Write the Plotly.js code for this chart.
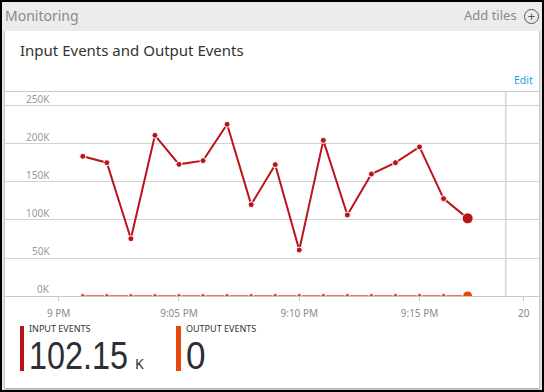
<!DOCTYPE html>
<html>
<head>
<meta charset="utf-8">
<script src="https://cdn.plot.ly/plotly-3.0.1.min.js"></script>
<style>
  html, body { margin:0; padding:0; width:544px; height:392px; overflow:hidden; background:#ececec; font-family:"Noto Sans", "Open Sans", sans-serif; }
  .abs { position:absolute; }
  #frame { left:0; top:0; width:544px; height:392px; box-sizing:border-box; border:2px solid #000; pointer-events:none; z-index:10; }
  #card { left:4px; top:31px; width:536px; height:357px; background:#fff; border-left:1px solid #d0d0d0; border-right:1px solid #d0d0d0; box-sizing:border-box; box-shadow:0 2px 2px rgba(0,0,0,0.25); }
  #chart { left:0; top:0; width:544px; height:392px; z-index:2; }
  .txt { z-index:5; white-space:nowrap; }
  .big { font-family:"Liberation Sans", Arial, sans-serif; font-size:39px; line-height:36px; color:#2b2e36; transform-origin:0 0; }
</style>
</head>
<body>
<div id="card" class="abs"></div>
<div id="chart" class="abs"></div>

<div class="abs txt" style="left:5px; top:6px; font-size:14px; color:#8a8a8a;">Monitoring</div>
<div class="abs txt" style="left:464px; top:6px; font-size:13px; color:#8a8a8a;">Add tiles</div>
<div class="abs txt" style="left:524px; top:9px; width:13px; height:13px; border:1px solid #555; border-radius:50%; text-align:center; line-height:13px; font-size:13px; color:#555;">+</div>

<div class="abs txt" style="left:20px; top:40px; font-size:15px; color:#333;">Input Events and Output Events</div>
<div class="abs txt" style="left:514px; top:73px; font-size:10.5px; color:#1ba1e2;">Edit</div>

<div class="abs txt" style="left:20px; top:326px; width:4px; height:45px; background:#BA141A;"></div>
<div class="abs txt" id="inLabel" style="left:29px; top:323px; font-size:9px; line-height:11px; color:#333;"></div>
<div class="abs txt big" id="inValue" style="left:29px; top:338px; transform:scaleX(0.83);"></div>
<div class="abs txt" id="inUnit" style="left:135px; top:355px; font-size:14px; line-height:17px; color:#2b2e36;"></div>

<div class="abs txt" style="left:176px; top:326px; width:5px; height:45px; background:#E8470C;"></div>
<div class="abs txt" id="outLabel" style="left:186px; top:323px; font-size:9px; line-height:11px; color:#333;"></div>
<div class="abs txt big" id="outValue" style="left:186px; top:338px; transform:scaleX(0.9);"></div>

<div id="frame" class="abs"></div>

<script>
// ---- data ----
const times = [
  "2017-01-01 21:01:00","2017-01-01 21:02:00","2017-01-01 21:03:00","2017-01-01 21:04:00",
  "2017-01-01 21:05:00","2017-01-01 21:06:00","2017-01-01 21:07:00","2017-01-01 21:08:00",
  "2017-01-01 21:09:00","2017-01-01 21:10:00","2017-01-01 21:11:00","2017-01-01 21:12:00",
  "2017-01-01 21:13:00","2017-01-01 21:14:00","2017-01-01 21:15:00","2017-01-01 21:16:00",
  "2017-01-01 21:17:00"
];
const inputEvents = [183800, 175400, 75400, 211400, 173200, 178100, 225900, 120200,
                     172800, 60500, 204800, 106600, 160500, 175400, 196100, 128100, 102150];
const outputEvents = [0,0,0,0,0,0,0,0,0,0,0,0,0,0,0,0,0];

const xTickVals = ["2017-01-01 21:00:00","2017-01-01 21:05:00","2017-01-01 21:10:00","2017-01-01 21:15:00","2017-01-01 21:19:20"];
const xTickText = ["9 PM","9:05 PM","9:10 PM","9:15 PM","20"];
const yTickVals = [0, 50000, 100000, 150000, 200000, 250000];
const yTickText = ["0K","50K","100K","150K","200K","250K"];

const seriesNames = ["INPUT EVENTS","OUTPUT EVENTS"];
const summaryInput = "102.15";
const summaryInputUnit = "K";
const summaryOutput = "0";

// ---- summary text ----
document.getElementById("inLabel").textContent = seriesNames[0];
document.getElementById("outLabel").textContent = seriesNames[1];
document.getElementById("inValue").textContent = summaryInput;
document.getElementById("inUnit").textContent = summaryInputUnit;
document.getElementById("outValue").textContent = summaryOutput;

// ---- chart ----
const RED = "#BA141A", ORANGE = "#E8470C";
const lastIdx = inputEvents.length - 1;

const traces = [
  {
    x: times, y: outputEvents, type: "scatter", mode: "lines+markers", name: seriesNames[1],
    line: { color: ORANGE, width: 1.5 },
    marker: { color: ORANGE, opacity: 1, size: outputEvents.map((v, i) => i === lastIdx ? 10 : 5) },
    hoverinfo: "skip"
  },
  {
    x: times, y: inputEvents, type: "scatter", mode: "lines+markers", name: seriesNames[0],
    line: { color: RED, width: 2 },
    marker: { color: RED, opacity: 1, size: inputEvents.map((v, i) => i === lastIdx ? 11 : 6) },
    hoverinfo: "skip"
  }
];

const annotations = yTickVals.map((v, i) => ({
  xref: "paper", yref: "y", x: 0.088, y: v, xanchor: "right", yanchor: "bottom",
  yshift: -2, text: yTickText[i], showarrow: false,
  font: { family: "Noto Sans, sans-serif", size: 10, color: "#9a9a9a" }
}));

const layout = {
  width: 544, height: 392,
  margin: { l: 5, r: 5, t: 92, b: 96, pad: 0 },
  paper_bgcolor: "rgba(0,0,0,0)", plot_bgcolor: "rgba(0,0,0,0)",
  showlegend: false,
  font: { family: "Noto Sans, sans-serif" },
  xaxis: {
    type: "date",
    range: ["2017-01-01 20:57:46", "2017-01-01 21:19:58"],
    tickmode: "array", tickvals: xTickVals, ticktext: xTickText,
    showgrid: false, zeroline: false,
    showline: true, mirror: true, linecolor: "#c8c8c8", linewidth: 1,
    ticks: "outside", ticklen: 4, tickcolor: "#c8c8c8",
    ticklabelstandoff: 4,
    tickfont: { size: 10, color: "#8a8a8a" },
    fixedrange: true
  },
  yaxis: {
    range: [0, 268400],
    tickmode: "array", tickvals: yTickVals,
    showticklabels: false, ticks: "",
    showgrid: true, gridcolor: "#d2d2d2", gridwidth: 1,
    zeroline: false, showline: false, fixedrange: true
  },
  shapes: [{
    type: "line", xref: "x", yref: "paper",
    x0: "2017-01-01 21:18:35", x1: "2017-01-01 21:18:35", y0: 0, y1: 1,
    line: { color: "#dddddd", width: 2 }, layer: "below"
  }],
  annotations: annotations
};

Plotly.newPlot("chart", traces, layout, { displayModeBar: false, staticPlot: true });
</script>
</body>
</html>
